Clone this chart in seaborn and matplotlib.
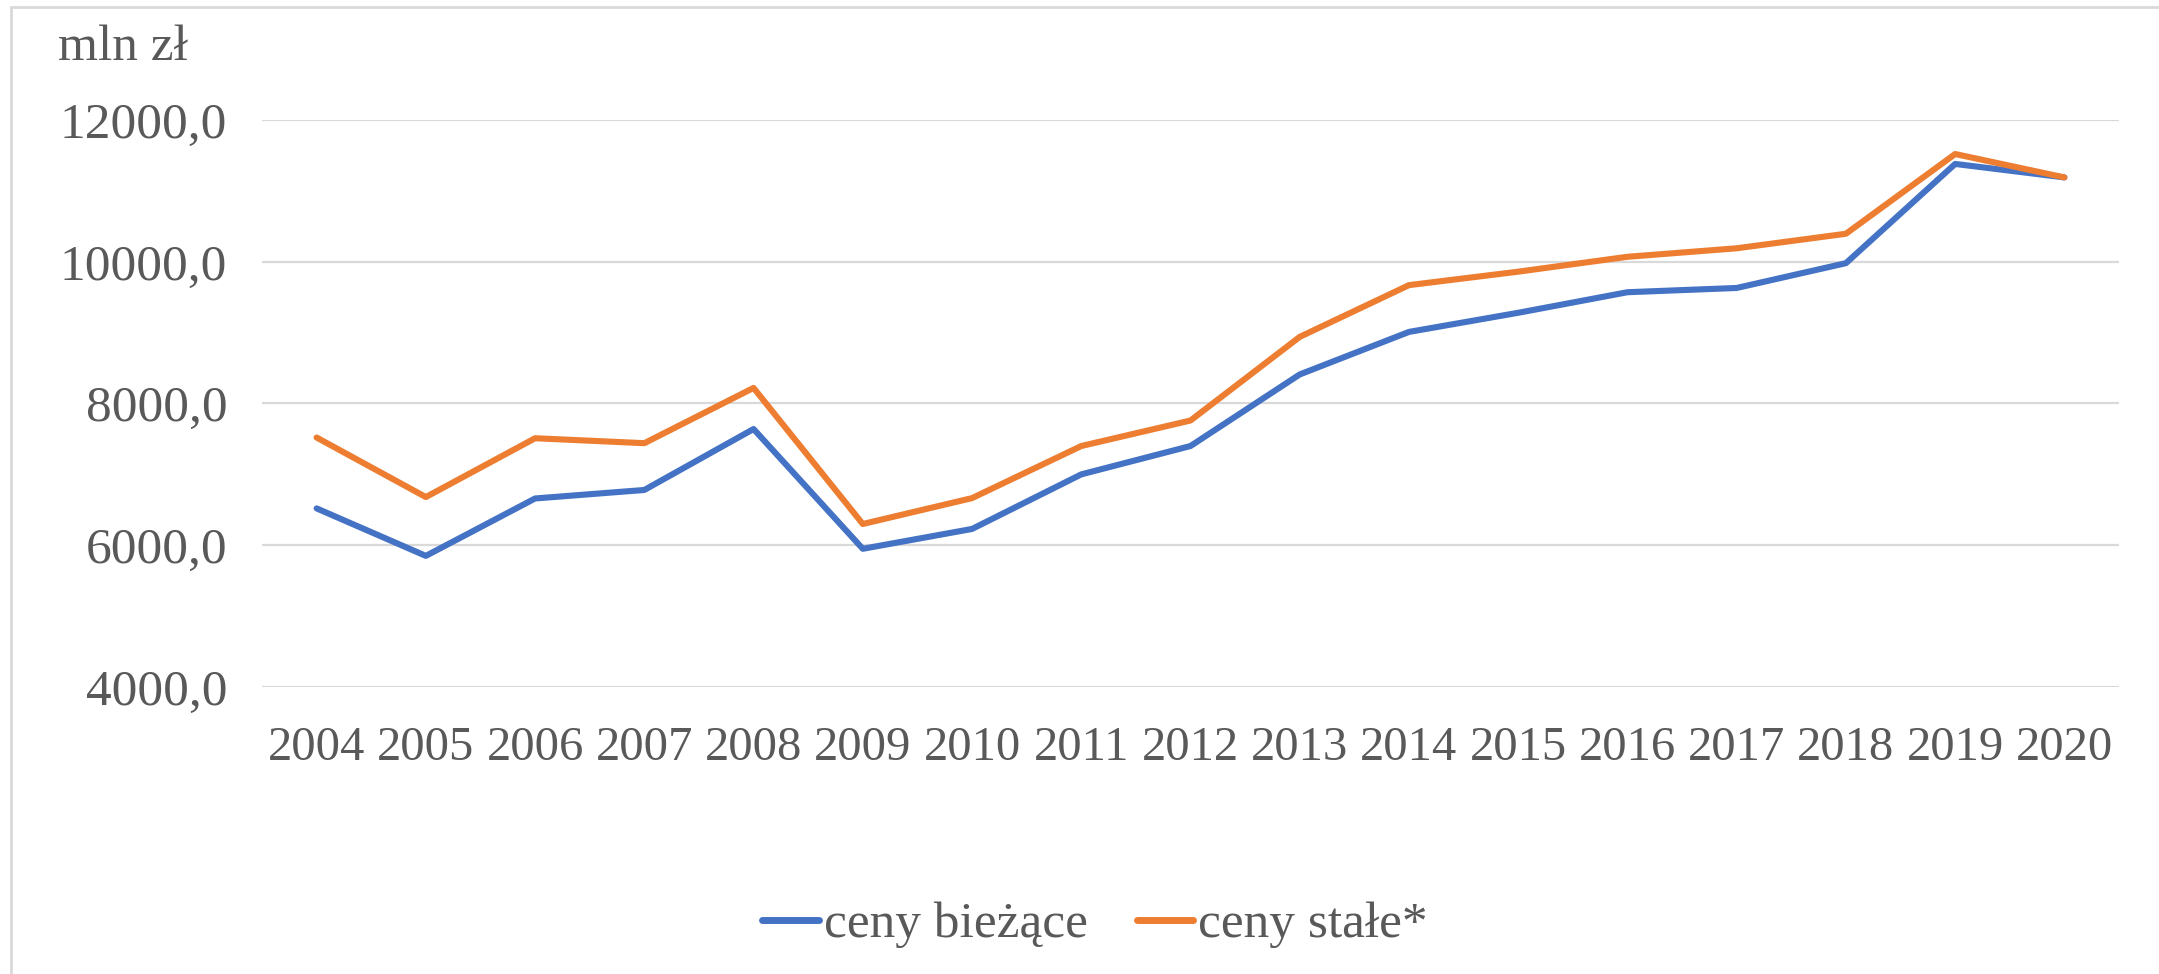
import pandas as pd
import matplotlib.pyplot as plt
import seaborn as sns
from matplotlib.ticker import FuncFormatter
from matplotlib.lines import Line2D

sns.set_style('white')
plt.rcParams['font.family'] = ['Liberation Serif', 'DejaVu Serif']

# dane (mln zł)
years = ['2004', '2005', '2006', '2007', '2008', '2009', '2010', '2011', '2012',
         '2013', '2014', '2015', '2016', '2017', '2018', '2019', '2020']
ceny_biezace = [6520, 5850, 6660, 6780, 7640, 5950, 6230, 7000, 7400,
                8410, 9010, 9280, 9570, 9630, 9980, 11380, 11190]
ceny_stale = [7520, 6680, 7510, 7440, 8220, 6300, 6665, 7400, 7760,
              8940, 9670, 9860, 10070, 10190, 10395, 11520, 11190]
series_names = ['ceny bieżące', 'ceny stałe*']
colors = ['#4472c4', '#ed7d31']

df = pd.DataFrame({'rok': years * 2,
                   'wartosc': ceny_biezace + ceny_stale,
                   'seria': [series_names[0]] * len(years) + [series_names[1]] * len(years)})

text_color = '#595959'
grid_color = '#d9d9d9'

fig = plt.figure(figsize=(21.59, 9.74), dpi=100)
ax = fig.add_axes([262 / 2159, 1 - 687 / 974, (2119 - 262) / 2159, (687 - 120) / 974])

sns.lineplot(data=df, x='rok', y='wartosc', hue='seria', palette=colors,
             linewidth=4.4, sort=False, ax=ax, legend=False)

ax.set_xlim(-0.5, len(years) - 0.5)
ax.set_ylim(4000, 12000)
ax.set_yticks([4000, 6000, 8000, 10000, 12000])
ax.yaxis.set_major_formatter(FuncFormatter(lambda v, p: f'{v:.1f}'.replace('.', ',')))
ax.grid(axis='y', color=grid_color, linewidth=1.6)
ax.grid(axis='x', visible=False)
ax.set_axisbelow(True)
for s in ax.spines.values():
    s.set_visible(False)
ax.set_xlabel('')
ax.set_ylabel('')
ax.tick_params(axis='y', length=0, pad=25, labelsize=37, labelcolor=text_color)
ax.tick_params(axis='x', length=0, pad=28, labelsize=35, labelcolor=text_color)

fig.text(58 / 2159, 1 - 48 / 974, 'mln zł', fontsize=37, color=text_color,
         ha='left', va='center')

# legenda
handles = [Line2D([0], [0], color=c, linewidth=5, solid_capstyle='round') for c in colors]
fig.legend(handles, series_names, loc='center', bbox_to_anchor=(1095 / 2159, 1 - 925 / 974),
           ncol=2, frameon=False, fontsize=37, labelcolor=text_color,
           handlelength=1.1, handletextpad=0.1, columnspacing=0.95)

# obramowanie wykresu
fig.add_artist(Line2D([11 / 2159, 1], [1 - 7 / 974, 1 - 7 / 974], color=grid_color, linewidth=2))
fig.add_artist(Line2D([11 / 2159, 11 / 2159], [0, 1 - 7 / 974], color=grid_color, linewidth=2))

fig.savefig('out.png', dpi=100, facecolor='white')
